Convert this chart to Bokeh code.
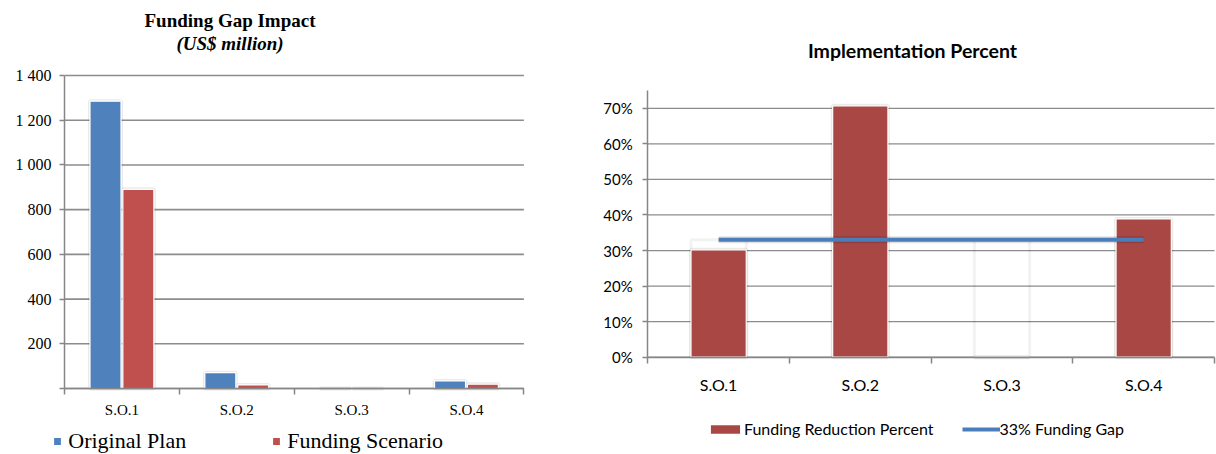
from bokeh.plotting import figure
from bokeh.layouts import row
from bokeh.models import (Range1d, FixedTicker, Label, Legend, LegendItem,
                          ColumnDataSource)
from bokeh.transform import dodge
from bokeh.embed import file_html
from bokeh.resources import INLINE

# ---- data -------------------------------------------------------------
categories = ["S.O.1", "S.O.2", "S.O.3", "S.O.4"]

original_plan = [1285, 71, 0, 34]        # US$ million
funding_scenario = [891, 16, 0, 19]      # US$ million
impact_ticks = [0, 200, 400, 600, 800, 1000, 1200, 1400]
impact_tick_labels = ["", "200", "400", "600", "800", "1 000", "1 200", "1 400"]

reduction_pct = [30.2, 70.7, 0, 38.9]    # funding reduction, percent
gap_pct = [33, 33, 33, 33]               # 33% funding gap reference
pct_ticks = [0, 10, 20, 30, 40, 50, 60, 70]
pct_tick_labels = ["0%", "10%", "20%", "30%", "40%", "50%", "60%", "70%"]

# ---- shared styling ---------------------------------------------------
BLUE = "#4f81bd"
RED = "#c0504d"
DARK_RED = "#a94745"
LINE_BLUE = "#4a7ebb"
GRID = "#8c8c8c"
AXIS = "#868686"

n = len(categories)
centers = [i + 0.5 for i in range(n)]
bounds = [float(i) for i in range(n + 1)]


def make_panel(width, x_range, y_range, y_max, font, ysize, xsize,
               ytick_vals, ytick_labels, ylab_standoff, xlab_standoff, grid_w):
    """A figure whose frame fills the whole canvas; axes sit at the data origin."""
    p = figure(width=width, height=454, x_range=x_range, y_range=y_range,
               output_backend="svg", toolbar_location=None,
               min_border=0, min_border_left=0, min_border_right=0,
               min_border_top=0, min_border_bottom=0)
    p.outline_line_color = None
    p.xgrid.visible = False
    p.ygrid.visible = False

    # horizontal gridlines across the category span
    p.segment(x0=[0] * len(ytick_vals), x1=[n] * len(ytick_vals),
              y0=ytick_vals, y1=ytick_vals, line_color=GRID, line_width=grid_w)

    ya = p.yaxis[0]
    ya.fixed_location = 0
    ya.bounds = (0, y_max)
    ya.ticker = FixedTicker(ticks=ytick_vals, minor_ticks=[])
    ya.major_label_overrides = {v: l for v, l in zip(ytick_vals, ytick_labels)}
    ya.axis_line_color = AXIS
    ya.axis_line_width = 1.5
    ya.major_tick_line_color = AXIS
    ya.major_tick_line_width = 1.5
    ya.major_tick_in = 0
    ya.major_tick_out = 5
    ya.minor_tick_line_color = None
    ya.major_label_standoff = ylab_standoff
    ya.major_label_text_font = font
    ya.major_label_text_font_size = ysize
    ya.major_label_text_color = "#000000"

    xa = p.xaxis[0]
    xa.fixed_location = 0
    xa.bounds = (0, n)
    # labels at category centres, tick marks at category boundaries
    xa.ticker = FixedTicker(ticks=centers, minor_ticks=bounds)
    xa.major_label_overrides = {c: lab for c, lab in zip(centers, categories)}
    xa.axis_line_color = AXIS
    xa.axis_line_width = 1.5
    xa.major_tick_line_color = None
    xa.major_tick_in = 0
    xa.major_tick_out = 6
    xa.minor_tick_line_color = AXIS
    xa.minor_tick_line_width = 1.5
    xa.minor_tick_in = 0
    xa.minor_tick_out = 6
    xa.major_label_standoff = xlab_standoff
    xa.major_label_text_font = font
    xa.major_label_text_font_size = xsize
    xa.major_label_text_color = "#000000"
    return p


def plain_legend(items, loc, font, size, gw, gh, standoff, spacing):
    return Legend(items=items, location=loc, orientation="horizontal",
                  glyph_width=gw, glyph_height=gh, label_standoff=standoff,
                  padding=0, margin=0, spacing=spacing,
                  border_line_alpha=0, background_fill_alpha=0,
                  label_text_font=font, label_text_font_size=size,
                  label_text_color="#000000")


def title(p, text, x, y, font, style, size):
    p.add_layout(Label(x=x, y=y, x_units="screen", y_units="screen", text=text,
                       text_align="center", text_baseline="middle",
                       text_font=font, text_font_style=style,
                       text_font_size=size, text_color="#000000"))


# ---- left: Funding Gap Impact -----------------------------------------
SERIF = "Liberation Serif"
src1 = ColumnDataSource(dict(x=centers, orig=original_plan, scen=funding_scenario))

p1 = make_panel(560, Range1d(-0.5573, 4.3187), Range1d(-295.2, 1735.5), 1400,
                SERIF, "16px", "15px", impact_ticks, impact_tick_labels, 8, 7, 1.6)

BW1 = 0.27
for col, off in (("orig", -0.143), ("scen", 0.143)):
    p1.vbar(x=dodge("x", off), top=col, width=BW1, source=src1,
            fill_color=None, line_color="#000000", line_alpha=0.08, line_width=4)
r_orig = p1.vbar(x=dodge("x", -0.143), top="orig", width=BW1, source=src1,
                 fill_color=BLUE, line_color="white", line_width=1.2)
r_scen = p1.vbar(x=dodge("x", 0.143), top="scen", width=BW1, source=src1,
                 fill_color=RED, line_color="white", line_width=1.2)

title(p1, "Funding Gap Impact", 229.5, 434, SERIF, "bold", "19px")
title(p1, "(US$ million)", 229.5, 411, SERIF, "bold italic", "19px")

p1.add_layout(plain_legend([LegendItem(label="Original Plan", renderers=[r_orig]),
                            LegendItem(label="Funding Scenario", renderers=[r_scen])],
                           (52.3, 0), SERIF, "22px", 10, 10, 6, 85))

# ---- right: Implementation Percent ------------------------------------
SANS = "Lato"
src2 = ColumnDataSource(dict(x=centers, red=reduction_pct, gap=gap_pct))

p2 = make_panel(656, Range1d(-0.616, 4.014), Range1d(-27.36, 100.31), 75,
                SANS, "15px", "16px", pct_ticks, pct_tick_labels, 10, 12, 1.2)

BW2 = 0.39
# faint outline of the gap level behind each column
p2.vbar(x="x", top="gap", width=BW2, source=src2,
        fill_color=None, line_color="#000000", line_alpha=0.05, line_width=3)
p2.vbar(x="x", top="red", width=BW2, source=src2,
        fill_color=None, line_color="#000000", line_alpha=0.08, line_width=4)
r_red = p2.vbar(x="x", top="red", width=BW2, source=src2,
                fill_color=DARK_RED, line_color="white", line_width=1.2)
p2.line(x="x", y="gap", source=src2, line_color="#000000", line_alpha=0.12, line_width=7)
r_gap = p2.line(x="x", y="gap", source=src2, line_color=LINE_BLUE, line_width=4)

title(p2, "Implementation Percent", 352, 404, SANS, "bold", "19.5px")

p2.add_layout(plain_legend([LegendItem(label="Funding Reduction Percent", renderers=[r_red]),
                            LegendItem(label="33% Funding Gap", renderers=[r_gap])],
                           (146, 16), SANS, "16px", 38, 12, 0, 28))

layout = row(p1, p2, spacing=0)

with open("out.html", "w") as f:
    f.write(file_html(layout, INLINE))
